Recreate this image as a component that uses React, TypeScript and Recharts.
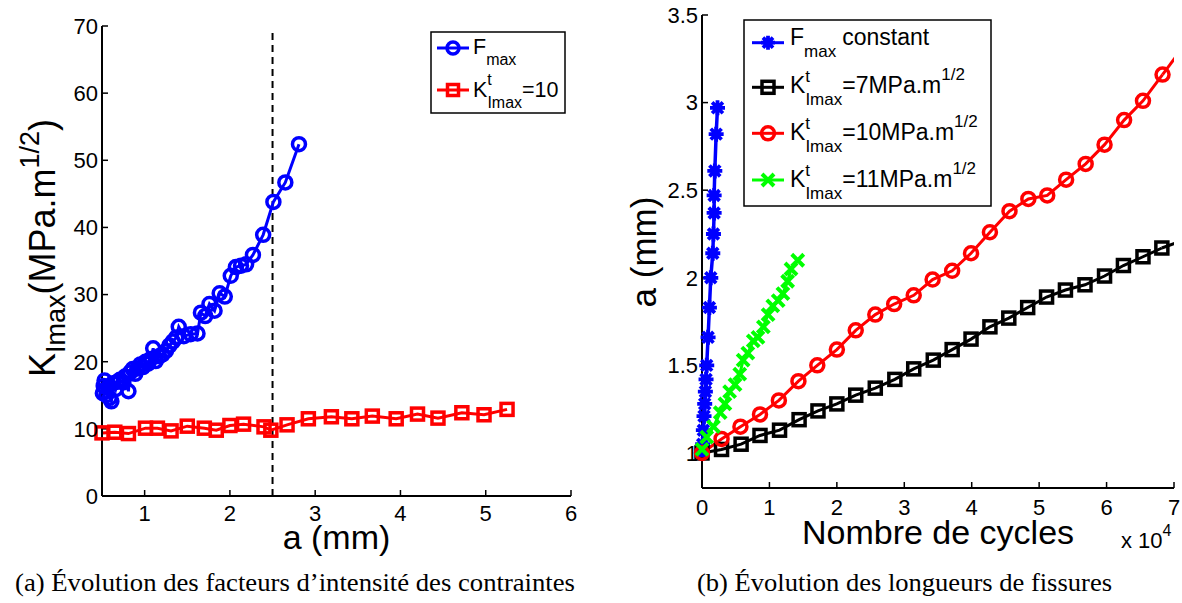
import React from "react";
import { LineChart, Line, XAxis, YAxis, ReferenceLine } from "recharts";

type Pt = [number, number];

// (a) crack length a (mm) vs K_Imax (MPa.m^1/2)
const fmaxK: Pt[] = [
  [0.51, 15.3], [0.52, 16.4], [0.53, 17.2], [0.55, 15.0], [0.57, 16.2],
  [0.59, 14.6], [0.61, 14.1], [0.63, 16.8], [0.66, 15.9], [0.68, 17.0],
  [0.71, 17.3], [0.75, 16.9], [0.77, 17.8], [0.81, 15.6], [0.83, 18.4],
  [0.86, 18.9], [0.89, 18.2], [0.92, 19.0], [0.95, 19.6], [0.98, 19.2],
  [1.01, 20.0], [1.04, 19.7], [1.07, 20.4], [1.1, 22.0], [1.13, 20.1],
  [1.17, 20.8], [1.21, 21.1], [1.25, 21.6], [1.29, 22.4], [1.33, 23.0],
  [1.37, 23.6], [1.4, 25.2], [1.46, 23.8], [1.54, 24.1], [1.62, 24.2],
  [1.66, 27.3], [1.71, 26.8], [1.76, 28.6], [1.82, 27.6], [1.88, 30.2],
  [1.94, 29.7], [2.01, 32.8], [2.07, 34.1], [2.13, 34.3], [2.19, 34.5],
  [2.27, 35.9], [2.39, 38.9], [2.51, 43.8], [2.65, 46.7], [2.81, 52.4],
];
const kt10K: Pt[] = [
  [0.5, 9.4], [0.65, 9.5], [0.81, 9.3], [1.01, 10.1], [1.15, 10.1],
  [1.31, 9.7], [1.5, 10.4], [1.7, 10.1], [1.84, 9.8], [2.0, 10.5],
  [2.16, 10.7], [2.4, 10.3], [2.48, 9.8], [2.67, 10.6], [2.92, 11.5],
  [3.19, 11.8], [3.43, 11.5], [3.67, 11.9], [3.95, 11.5], [4.2, 12.2],
  [4.44, 11.6], [4.72, 12.4], [4.98, 12.1], [5.25, 12.9],
];
const aLimit = 2.5;

// (b) number of cycles (x 10^4) vs a (mm)
const fmaxA: Pt[] = [
  [0, 1.0], [0.01, 1.05], [0.02, 1.13], [0.03, 1.21], [0.04, 1.28],
  [0.05, 1.35], [0.06, 1.42], [0.07, 1.5], [0.09, 1.66], [0.11, 1.83],
  [0.13, 2.0], [0.16, 2.14], [0.17, 2.25], [0.18, 2.37], [0.18, 2.47],
  [0.19, 2.61], [0.21, 2.82], [0.23, 2.97],
];
const kt7A: Pt[] = [
  [0, 1.0], [0.29, 1.02], [0.58, 1.05], [0.86, 1.1], [1.15, 1.13],
  [1.44, 1.19], [1.72, 1.24], [2.0, 1.28], [2.28, 1.33], [2.57, 1.37],
  [2.86, 1.42], [3.14, 1.48], [3.43, 1.53], [3.71, 1.59], [3.99, 1.65],
  [4.27, 1.72], [4.55, 1.77], [4.83, 1.83], [5.11, 1.89], [5.39, 1.93],
  [5.68, 1.96], [5.97, 2.01], [6.25, 2.07], [6.54, 2.12], [6.82, 2.17],
];
const kt7Tail: Pt[] = [[6.82, 2.17], [7.11, 2.21]];
const kt10A: Pt[] = [
  [0, 1.0], [0.29, 1.08], [0.57, 1.15], [0.86, 1.22], [1.14, 1.3],
  [1.43, 1.41], [1.71, 1.5], [2.0, 1.59], [2.28, 1.7], [2.57, 1.79],
  [2.85, 1.85], [3.14, 1.9], [3.42, 1.99], [3.71, 2.04], [3.99, 2.14],
  [4.27, 2.26], [4.56, 2.38], [4.84, 2.45], [5.12, 2.47], [5.4, 2.56],
  [5.69, 2.65], [5.97, 2.76], [6.26, 2.9], [6.54, 3.01], [6.83, 3.16],
];
const kt10Tail: Pt[] = [[6.83, 3.16], [7.12, 3.31]];
const kt11A: Pt[] = [
  [0, 1.02], [0.07, 1.09], [0.17, 1.15], [0.27, 1.23], [0.34, 1.28],
  [0.41, 1.35], [0.49, 1.39], [0.56, 1.45], [0.61, 1.53], [0.68, 1.57],
  [0.76, 1.64], [0.83, 1.66], [0.91, 1.72], [0.98, 1.79], [1.05, 1.84],
  [1.13, 1.87], [1.2, 1.91], [1.27, 1.98], [1.32, 2.05], [1.42, 2.1],
];

const aTicks = [1, 2, 3, 4, 5, 6];
const kTicks = [0, 10, 20, 30, 40, 50, 60, 70];
const nTicks = [0, 1, 2, 3, 4, 5, 6, 7];
const mmTicks = [1, 1.5, 2, 2.5, 3, 3.5];

const toRows = (pts: Pt[]) => pts.map(([x, y]) => ({ x, y }));

const sans = '"Liberation Sans", Arial, Helvetica, sans-serif';
const serif = '"Liberation Serif", "Times New Roman", serif';

const BLUE = "#0000ff";
const RED = "#ff0000";
const GREEN = "#00ff00";
const BLACK = "#000000";

type Kind = "circle" | "square" | "star" | "cross";

function Marker({ kind, x, y, color, s }: { kind: Kind; x: number; y: number; color: string; s: number }) {
  if (kind === "circle")
    return <circle cx={x} cy={y} r={s} fill="none" stroke={color} strokeWidth={3.5} />;
  if (kind === "square")
    return <rect x={x - s} y={y - s} width={2 * s} height={2 * s} fill="none" stroke={color} strokeWidth={3.5} />;
  if (kind === "cross")
    return (
      <path
        d={`M${x - s},${y - s}L${x + s},${y + s}M${x - s},${y + s}L${x + s},${y - s}`}
        stroke={color}
        strokeWidth={4}
      />
    );
  const d = s * 0.72;
  return (
    <path
      d={`M${x - s},${y}L${x + s},${y}M${x},${y - s}L${x},${y + s}M${x - d},${y - d}L${x + d},${y + d}M${x - d},${y + d}L${x + d},${y - d}`}
      stroke={color}
      strokeWidth={3.8}
    />
  );
}

const dotOf = (kind: Kind, color: string, s: number) => (p: any) => (
  <g key={`dot-${p.index}`}>
    {p.cx == null || p.cy == null ? null : <Marker kind={kind} x={p.cx} y={p.cy} color={color} s={s} />}
  </g>
);

const axisLine = { stroke: "#000", strokeWidth: 2 };
const tickLine = { stroke: "#000", strokeWidth: 1.5 };
const tickFont = { fill: "#000", fontSize: 22, fontFamily: sans };
const noLabel = () => <g />;

function LegendRow({ x, y, kind, color, s }: { x: number; y: number; kind: Kind; color: string; s: number }) {
  return (
    <g>
      <line x1={x} x2={x + 32} y1={y} y2={y} stroke={color} strokeWidth={3} />
      <Marker kind={kind} x={x + 16} y={y} color={color} s={s} />
    </g>
  );
}

function KRight({ y, value }: { y: number; value: string }) {
  return (
    <text x={790} y={y} fontSize={23} fontFamily={sans} fill="#000">
      K
      <tspan fontSize={17} dy={-11}>t</tspan>
      <tspan fontSize={17} dx={-4.7} dy={23}>Imax</tspan>
      <tspan dy={-12}>{value}</tspan>
      <tspan fontSize={17} dy={-13}>1/2</tspan>
    </text>
  );
}

export default function App() {
  return (
    <div style={{ position: "absolute", left: 0, top: 0, width: 1182, height: 603, background: "#fff" }}>
      <div style={{ position: "absolute", left: 0, top: 0 }}>
        <LineChart width={590} height={556} margin={{ top: 26, right: 19, bottom: 0, left: 0 }}>
          <XAxis xAxisId="b" dataKey="x" type="number" domain={[0.5, 6]} ticks={aTicks} interval={0}
            height={60} tickSize={-6} tickMargin={15} tick={tickFont} axisLine={axisLine} tickLine={tickLine} />
          <XAxis xAxisId="t" orientation="top" dataKey="x" type="number" domain={[0.5, 6]} ticks={aTicks}
            interval={0} height={0} tickSize={-6} tick={noLabel} axisLine={axisLine} tickLine={tickLine} />
          <YAxis yAxisId="l" type="number" domain={[0, 70]} ticks={kTicks} interval={0} width={102}
            tickSize={-6} tickMargin={10} tick={tickFont} axisLine={axisLine} tickLine={tickLine} />
          <YAxis yAxisId="r" orientation="right" type="number" domain={[0, 70]} ticks={kTicks} interval={0}
            width={0} tickSize={-6} tick={noLabel} axisLine={axisLine} tickLine={tickLine} />
          <ReferenceLine xAxisId="b" yAxisId="l" segment={[{ x: aLimit, y: 0 }, { x: aLimit, y: 69 }]}
            stroke="#000" strokeWidth={2} strokeDasharray="7 5" />
          <Line xAxisId="b" yAxisId="l" data={toRows(fmaxK)} dataKey="y" type="linear" stroke={BLUE}
            strokeWidth={3} dot={dotOf("circle", BLUE, 6.5)} activeDot={false} isAnimationActive={false} />
          <Line xAxisId="b" yAxisId="l" data={toRows(kt10K)} dataKey="y" type="linear" stroke={RED}
            strokeWidth={3} dot={dotOf("square", RED, 6)} activeDot={false} isAnimationActive={false} />
        </LineChart>
      </div>

      <div style={{ position: "absolute", left: 600, top: 0 }}>
        <LineChart width={582} height={556} margin={{ top: 15, right: 8, bottom: 0, left: 0 }}>
          <XAxis xAxisId="b" dataKey="x" type="number" domain={[0, 7]} ticks={nTicks} interval={0}
            height={68} tickSize={-6} tickMargin={17} tick={tickFont} axisLine={axisLine} tickLine={tickLine} />
          <XAxis xAxisId="t" orientation="top" dataKey="x" type="number" domain={[0, 7]} ticks={nTicks}
            interval={0} height={0} tickSize={-6} tick={noLabel} axisLine={axisLine} tickLine={tickLine} />
          <XAxis xAxisId="clip" dataKey="x" type="number" domain={[0, 7]} allowDataOverflow hide height={0} />
          <YAxis yAxisId="l" type="number" domain={[0.8, 3.5]} ticks={mmTicks} interval={0} width={102}
            tickSize={-6} tickMargin={10} tick={tickFont} axisLine={axisLine} tickLine={tickLine} />
          <YAxis yAxisId="r" orientation="right" type="number" domain={[0.8, 3.5]} ticks={mmTicks} interval={0}
            width={0} tickSize={-6} tick={noLabel} axisLine={axisLine} tickLine={tickLine} />
          <Line xAxisId="b" yAxisId="l" data={toRows(fmaxA)} dataKey="y" type="linear" stroke={BLUE}
            strokeWidth={3.5} dot={dotOf("star", BLUE, 7.5)} activeDot={false} isAnimationActive={false} />
          <Line xAxisId="clip" yAxisId="l" data={toRows(kt7Tail)} dataKey="y" type="linear" stroke={BLACK}
            strokeWidth={3} dot={false} activeDot={false} isAnimationActive={false} />
          <Line xAxisId="b" yAxisId="l" data={toRows(kt7A)} dataKey="y" type="linear" stroke={BLACK}
            strokeWidth={3} dot={dotOf("square", BLACK, 6)} activeDot={false} isAnimationActive={false} />
          <Line xAxisId="clip" yAxisId="l" data={toRows(kt10Tail)} dataKey="y" type="linear" stroke={RED}
            strokeWidth={3} dot={false} activeDot={false} isAnimationActive={false} />
          <Line xAxisId="b" yAxisId="l" data={toRows(kt10A)} dataKey="y" type="linear" stroke={RED}
            strokeWidth={3} dot={dotOf("circle", RED, 6.5)} activeDot={false} isAnimationActive={false} />
          <Line xAxisId="b" yAxisId="l" data={toRows(kt11A)} dataKey="y" type="linear" stroke={GREEN}
            strokeWidth={3} dot={dotOf("cross", GREEN, 6)} activeDot={false} isAnimationActive={false} />
        </LineChart>
      </div>

      <svg width={1182} height={603} style={{ position: "absolute", left: 0, top: 0, pointerEvents: "none" }}>
        {/* axis titles */}
        <text transform="translate(55,248) rotate(-90)" textAnchor="middle" fontSize={36} fontFamily={sans} fill="#000">
          K<tspan fontSize={27} dy={10}>Imax</tspan>
          <tspan dy={-10}>(MPa.m</tspan>
          <tspan fontSize={27} dy={-16}>1/2</tspan>
          <tspan dy={16}>)</tspan>
        </text>
        <text x={336.5} y={549} textAnchor="middle" fontSize={34} fontFamily={sans} fill="#000">a (mm)</text>
        <text transform="translate(656,252) rotate(-90)" textAnchor="middle" fontSize={35} fontFamily={sans} fill="#000">
          a (mm)
        </text>
        <text x={938} y={544} textAnchor="middle" fontSize={34} fontFamily={sans} fill="#000">Nombre de cycles</text>
        <text x={1121} y={548} fontSize={22} fontFamily={sans} fill="#000">
          x 10<tspan fontSize={16} dy={-12}>4</tspan>
        </text>

        {/* legend (a) */}
        <rect x={431} y={32} width={134} height={81} fill="#fff" stroke="#000" strokeWidth={1.5} />
        <LegendRow x={437} y={48} kind="circle" color={BLUE} s={6} />
        <text x={473} y={54} fontSize={21.5} fontFamily={sans} fill="#000">
          F<tspan fontSize={16} dy={11}>max</tspan>
        </text>
        <LegendRow x={437} y={90} kind="square" color={RED} s={5.5} />
        <text x={473} y={97} fontSize={21.5} fontFamily={sans} fill="#000">
          K<tspan fontSize={16} dy={-12}>t</tspan>
          <tspan fontSize={16} dx={-4.4} dy={23}>Imax</tspan>
          <tspan dy={-11}>=10</tspan>
        </text>

        {/* legend (b) */}
        <rect x={744} y={20} width={247} height={186} fill="#fff" stroke="#000" strokeWidth={1.5} />
        <LegendRow x={752} y={42.7} kind="star" color={BLUE} s={7} />
        <text x={790} y={45} fontSize={23} fontFamily={sans} fill="#000">
          F<tspan fontSize={17} dy={12}>max</tspan>
          <tspan dx={6} dy={-12}>constant</tspan>
        </text>
        <LegendRow x={752} y={87.3} kind="square" color={BLACK} s={6} />
        <KRight y={93} value="=7MPa.m" />
        <LegendRow x={752} y={133.3} kind="circle" color={RED} s={6.5} />
        <KRight y={140} value="=10MPa.m" />
        <LegendRow x={752} y={180} kind="cross" color={GREEN} s={6} />
        <KRight y={186.7} value="=11MPa.m" />

        {/* captions */}
        <text x={15} y={591} fontSize={25} fontFamily={serif} fill="#000" textLength={560} lengthAdjust="spacingAndGlyphs">
          (a) Évolution des facteurs d’intensité des contraintes
        </text>
        <text x={697} y={591} fontSize={25} fontFamily={serif} fill="#000" textLength={415} lengthAdjust="spacingAndGlyphs">
          (b) Évolution des longueurs de fissures
        </text>
      </svg>
    </div>
  );
}
